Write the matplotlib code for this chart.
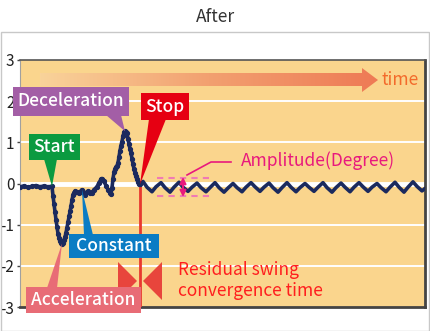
import numpy as np
import matplotlib
matplotlib.use("Agg")
import matplotlib.pyplot as plt
from matplotlib.patches import Rectangle, Polygon
from matplotlib.colors import LinearSegmentedColormap

plt.rcParams['font.family'] = ['Noto Sans CJK JP', 'DejaVu Sans']

# ---- data (time in arbitrary units, swing angle in degrees) ----
event_time = [0, 4, 8, 12, 16, 20, 24, 28, 32, 33, 34, 35, 36, 37, 38, 39, 40, 41, 42, 43,
              44, 45, 46, 47, 48, 49, 50, 51, 52, 53, 54, 55, 57, 59, 60, 62, 64, 65, 67, 68,
              70, 72, 74, 77, 79, 81, 82, 84, 86, 88, 90, 91, 92, 93, 94, 95, 96, 97, 98, 99,
              100, 101, 102, 103, 104, 105, 106, 107, 108, 109, 110, 111, 112, 113, 114, 115,
              116, 117, 118, 119, 120]
event_angle = [-0.08, -0.06, -0.09, -0.07, -0.05, -0.08, -0.06, -0.08, -0.07, -0.3, -0.5, -0.7,
               -0.88, -1.05, -1.22, -1.32, -1.4, -1.44, -1.46, -1.44, -1.38, -1.3, -1.2, -1.07,
               -0.93, -0.8, -0.67, -0.55, -0.4, -0.28, -0.22, -0.19, -0.2, -0.24, -0.2, -0.15,
               -0.22, -0.27, -0.2, -0.19, -0.22, -0.22, -0.15, -0.08, 0.02, 0.1, 0.12, 0.05,
               -0.05, -0.15, -0.22, -0.25, -0.1, 0.12, 0.27, 0.35, 0.4, 0.42, 0.5, 0.65, 0.8,
               0.92, 1.02, 1.15, 1.24, 1.27, 1.26, 1.22, 1.08, 0.95, 0.84, 0.74, 0.6, 0.47, 0.35,
               0.26, 0.18, 0.1, 0.04, 0.0, -0.02]
residual_time = [123, 127, 132, 136, 141, 145, 150, 154, 159, 163, 168, 172, 177, 181, 186, 190,
                 195, 199, 204, 208, 213, 217, 222, 226, 231, 235, 240, 244, 249, 253, 258, 262,
                 267, 271, 276, 280, 285, 289, 294, 298, 303, 307, 312, 316, 321, 325, 330, 334,
                 339, 343, 348, 352, 357, 361, 366, 370, 375, 379, 384, 388, 393, 397, 402, 405]
residual_angle = [0.05, -0.09, -0.2, -0.08, 0.02, -0.1, -0.21, -0.09, 0.03, -0.09, -0.19, -0.09,
                  0.01, -0.1, -0.2, -0.1, 0.02, -0.1, -0.21, -0.11, 0.0, -0.1, -0.2, -0.09, 0.02,
                  -0.08, -0.19, -0.09, 0.01, -0.1, -0.21, -0.1, 0.02, -0.09, -0.2, -0.1, 0.0,
                  -0.09, -0.19, -0.09, 0.02, -0.1, -0.21, -0.1, 0.01, -0.09, -0.2, -0.09, 0.02,
                  -0.08, -0.19, -0.09, 0.0, -0.1, -0.2, -0.09, 0.03, -0.09, -0.21, -0.09, 0.04,
                  -0.07, -0.18, -0.12]
y_ticks = [3, 2, 1, 0, -1, -2, -3]
y_tick_labels = ['3', '2', '1', '0', '-1', '-2', '-3']

W, H = 430, 331
fig = plt.figure(figsize=(W / 100, H / 100), dpi=100)
L, R, T, B = 20, 425, 60, 307
ax = fig.add_axes([L / W, (H - B) / H, (R - L) / W, (B - T) / H])
ax.set_facecolor('#FAD58D')

def px(x, y):
    """pixel position -> data coordinates"""
    return (x - L, 3 - (y - T) * 6.0 / (B - T))

# figure border and title
fig.add_artist(Rectangle((0.5 / W, 0.5 / H), (W - 1.5) / W, (H - 32) / H,
                         transform=fig.transFigure, fill=False, ec='#C8C8C8', lw=1))
fig.text(0.5, 1 - 17 / H, 'After', ha='center', va='center', fontsize=12.5, color='#333333')

# grid
for g in [-2, -1, 1, 2]:
    ax.axhline(g, color='white', lw=1.4, zorder=1)
ax.axhline(0, color='white', lw=3.5, zorder=1)

navy = '#1B2A5E'
t_all = event_time + residual_time
a_all = event_angle + residual_angle
ax.plot(t_all, a_all, color=navy, lw=2.6, zorder=4, solid_joinstyle='round', solid_capstyle='round')
ax.plot(event_time, event_angle, 'o', color=navy, ms=2.8, zorder=4)

# time arrow with gradient
body_y0, body_y1 = px(0, 86)[1], px(0, 73)[1]
head_y0, head_y1 = px(0, 92)[1], px(0, 68)[1]
ymid = px(0, 80)[1]
x0, xh, xt = px(40, 0)[0], px(362, 0)[0], px(378, 0)[0]
arrow = Polygon([(x0, body_y0), (xh, body_y0), (xh, head_y0), (xt, ymid), (xh, head_y1),
                 (xh, body_y1), (x0, body_y1)], closed=True, fc='none', ec='none')
ax.add_patch(arrow)
cmap = LinearSegmentedColormap.from_list('g', ['#F9D39A', '#F2A070', '#EE7A55'])
grad = np.linspace(0, 1, 256).reshape(1, -1)
im = ax.imshow(grad, extent=[x0, xt, head_y0, head_y1], aspect='auto', cmap=cmap, zorder=2)
im.set_clip_path(arrow)
ax.text(px(381, 0)[0], ymid, 'time', color='#F36A2B', fontsize=12.5, va='center', ha='left', zorder=5)

# stop marker line
i_stop = len(event_time) - 1
ax.plot([event_time[i_stop], event_time[i_stop]], [event_angle[i_stop], -3], color='#E8382F', lw=2, zorder=3)

# convergence bow-tie
tri_c = '#E8453C'
ax.add_patch(Polygon([px(118, 262), px(118, 300), px(137, 281)], closed=True, fc=tri_c, ec='none', zorder=5, clip_on=False))
ax.add_patch(Polygon([px(162, 262), px(162, 300), px(143, 281)], closed=True, fc=tri_c, ec='none', zorder=5, clip_on=False))
ax.text(px(178, 0)[0], px(0, 270)[1], 'Residual swing', color='#FF1E1E', fontsize=12.5, va='center', ha='left', zorder=6)
ax.text(px(178, 0)[0], px(0, 291)[1], 'convergence time', color='#FF1E1E', fontsize=12.5, va='center', ha='left', zorder=6)

# amplitude annotation
pink = '#E8197D'
for yy in (178, 196):
    a, b = px(157, yy), px(209, yy)
    ax.plot([a[0], b[0]], [a[1], b[1]], color='#F07AB4', lw=1.5, ls=(0, (3, 2.5)), zorder=5)
ax.annotate('', xy=px(183, 177), xytext=px(183, 197),
            arrowprops=dict(arrowstyle='<|-|>', color=pink, lw=1.5, mutation_scale=9,
                            shrinkA=0, shrinkB=0), zorder=5)
pts = [px(187, 175), px(211, 162), px(231, 162)]
ax.plot([p[0] for p in pts], [p[1] for p in pts], color=pink, lw=1.2, zorder=5)
ax.text(px(241, 0)[0], px(0, 161)[1], 'Amplitude(Degree)', color=pink, fontsize=12.5, va='center', ha='left', zorder=6)

# callout boxes
def callout(text, color, box, base, tip):
    bx0, by0, bx1, by1 = box
    p0 = px(bx0, by1)
    p1 = px(bx1, by0)
    ax.add_patch(Polygon([px(*base[0]), px(*base[1]), tip], closed=True, fc=color, ec='none', zorder=6, clip_on=False))
    ax.add_patch(Rectangle(p0, p1[0] - p0[0], p1[1] - p0[1], fc=color, ec='none', zorder=7, clip_on=False))
    c = px((bx0 + bx1) / 2, (by0 + by1) / 2)
    ax.text(c[0], c[1], text, color='white', fontsize=12.5, ha='center', va='center', zorder=8,
            clip_on=False, fontweight='medium')

i_min = int(np.argmin(event_angle))
i_max = int(np.argmax(event_angle))
i_start = 8
i_const = event_time.index(62)
callout('Start', '#0B9A40', (29, 134, 80, 160), [(44, 159), (57, 159)], (event_time[i_start], event_angle[i_start]))
callout('Deceleration', '#A35EA6', (13, 87, 129, 116), [(106, 115), (121, 115)], (event_time[i_max], event_angle[i_max]))
callout('Stop', '#E60012', (141, 93, 189, 120), [(149, 119), (166, 119)], (event_time[i_stop], event_angle[i_stop]))
callout('Constant', '#0A7CC4', (69, 234, 159, 258), [(84, 235), (93, 235)], (event_time[i_const], event_angle[i_const]))
callout('Acceleration', '#E86C76', (26, 287, 141, 313), [(47, 288), (57, 288)], (event_time[i_min], event_angle[i_min]))

ax.set_xlim(0, R - L)
ax.set_ylim(-3, 3)
ax.set_xticks([])
ax.set_yticks(y_ticks)
ax.set_yticklabels(y_tick_labels)
ax.tick_params(axis='y', length=2.5, width=1, color='#444444', pad=1.5, labelsize=11, labelcolor='#222222')
ax.spines['top'].set_color('#555555'); ax.spines['top'].set_linewidth(1.2)
for s in ('right', 'bottom'):
    ax.spines[s].set_color('#444444'); ax.spines[s].set_linewidth(2)
ax.spines['left'].set_color('#A0A0A0'); ax.spines['left'].set_linewidth(0.8)

fig.savefig('out.png', dpi=100)
